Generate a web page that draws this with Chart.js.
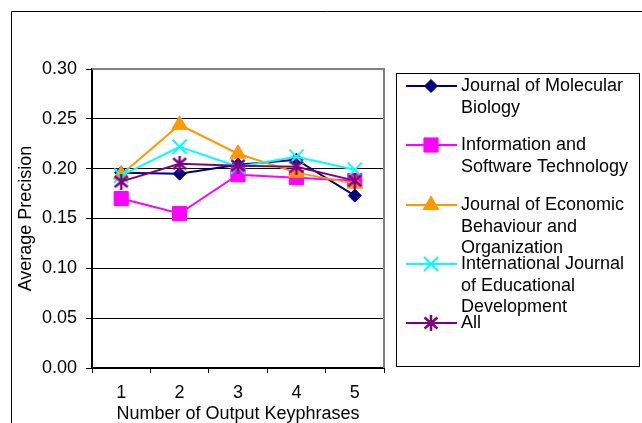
<!DOCTYPE html>
<html>
<head>
<meta charset="utf-8">
<script src="https://cdn.jsdelivr.net/npm/chart.js@4/dist/chart.umd.min.js"></script>
<style>
  body { margin: 0; background: #fff; }
  #wrap { width: 642px; height: 423px; position: relative; }
</style>
</head>
<body>
<div id="wrap"><canvas id="precisionChart"></canvas></div>
<script>
const keyphraseCounts = ['1', '2', '3', '4', '5'];
const yTicks = [0, 0.05, 0.10, 0.15, 0.20, 0.25, 0.30];

const molecularBiology = [0.196, 0.195, 0.204, 0.209, 0.173];
const infoSoftware = [0.170, 0.155, 0.194, 0.191, 0.188];
const economicBehaviour = [0.194, 0.244, 0.215, 0.196, 0.185];
const educationalDev = [0.193, 0.222, 0.202, 0.212, 0.199];
const allJournals = [0.187, 0.205, 0.203, 0.202, 0.188];

const seriesNames = [
  ['Journal of Molecular', 'Biology'],
  ['Information and', 'Software Technology'],
  ['Journal of Economic', 'Behaviour and', 'Organization'],
  ['International Journal', 'of Educational', 'Development'],
  ['All']
];

const FONT = 'Liberation Sans, Arial, sans-serif';

// spreadsheet style asterisk: vertical bar plus an X
function asteriskMarker(color) {
  const c = document.createElement('canvas');
  c.width = 16;
  c.height = 16;
  const g = c.getContext('2d');
  g.strokeStyle = color;
  g.lineWidth = 2.5;
  g.beginPath();
  g.moveTo(8, 0); g.lineTo(8, 16);
  g.moveTo(1.5, 2.5); g.lineTo(14.5, 13.5);
  g.moveTo(14.5, 2.5); g.lineTo(1.5, 13.5);
  g.stroke();
  return c;
}

function makeSeries(idx, data, color, style, radius, bw) {
  return {
    label: seriesNames[idx].join(' '),
    data: data,
    borderColor: color,
    backgroundColor: color,
    borderWidth: 2,
    pointStyle: style,
    pointRadius: radius,
    pointBorderWidth: bw,
    pointBorderColor: color,
    pointBackgroundColor: color,
    fill: false,
    tension: 0,
    order: 5 - idx
  };
}

const datasets = [
  makeSeries(0, molecularBiology, '#000080', 'rectRot', 6.5, 1),
  makeSeries(1, infoSoftware, '#ff00ff', 'rect', 10, 1),
  makeSeries(2, economicBehaviour, '#ff9900', 'triangle', 9, 1),
  makeSeries(3, educationalDev, '#00ffff', 'crossRot', 10, 2),
  makeSeries(4, allJournals, '#800080', asteriskMarker('#800080'), 8, 2)
];

// outer frame, plot border, and boxed legend like the spreadsheet original
const framePlugin = {
  id: 'frame',
  beforeDraw(chart) {
    const ctx = chart.ctx;
    ctx.save();
    ctx.fillStyle = '#fff';
    ctx.fillRect(0, 0, chart.width, chart.height);
    ctx.strokeStyle = '#000';
    ctx.lineWidth = 1;
    ctx.beginPath();
    ctx.moveTo(11.5, chart.height);
    ctx.lineTo(11.5, 11.5);
    ctx.lineTo(chart.width, 11.5);
    ctx.stroke();
    ctx.restore();
  },
  beforeDatasetsDraw(chart) {
    const a = chart.chartArea;
    const ctx = chart.ctx;
    ctx.save();
    ctx.strokeStyle = '#808080';
    ctx.lineWidth = 2;
    ctx.beginPath();
    ctx.moveTo(a.left, a.top);
    ctx.lineTo(a.right, a.top);
    ctx.lineTo(a.right, a.bottom);
    ctx.stroke();
    ctx.restore();
  },
  afterDraw(chart) {
    const ctx = chart.ctx;
    ctx.save();
    ctx.strokeStyle = '#000';
    ctx.lineWidth = 1;
    ctx.strokeRect(396.5, 73.5, 243, 293);
    ctx.font = '18px ' + FONT;
    ctx.textBaseline = 'middle';
    ctx.textAlign = 'left';
    const rowY = [86, 145, 205, 264, 323];
    chart.data.datasets.forEach((ds, i) => {
      const y = rowY[i];
      ctx.strokeStyle = ds.borderColor;
      ctx.lineWidth = 2;
      ctx.beginPath();
      ctx.moveTo(406, y);
      ctx.lineTo(457, y);
      ctx.stroke();
      ctx.fillStyle = ds.pointBackgroundColor;
      ctx.strokeStyle = ds.pointBorderColor;
      ctx.lineWidth = ds.pointBorderWidth;
      Chart.helpers.drawPoint(ctx, {
        pointStyle: ds.pointStyle,
        radius: ds.pointRadius,
        borderWidth: ds.pointBorderWidth,
        rotation: 0
      }, 431, y);
      ctx.fillStyle = '#000';
      seriesNames[i].forEach((line, k) => {
        ctx.fillText(line, 461, y + k * 21.6);
      });
    });
    ctx.restore();
  }
};

new Chart(document.getElementById('precisionChart').getContext('2d'), {
  type: 'line',
  data: {
    labels: keyphraseCounts,
    datasets: datasets
  },
  options: {
    responsive: true,
    maintainAspectRatio: false,
    animation: false,
    devicePixelRatio: 1,
    layout: { padding: { left: 15, top: 69, right: 258, bottom: 0 } },
    plugins: {
      legend: { display: false },
      tooltip: { enabled: false }
    },
    scales: {
      x: {
        offset: true,
        afterFit(scale) { scale.height = 55; },
        grid: { offset: true, drawOnChartArea: false, drawTicks: true, tickLength: 5, color: '#000' },
        border: { color: '#000', width: 2 },
        ticks: { color: '#000', padding: 9, font: { family: FONT, size: 18 } },
        title: {
          display: true,
          text: 'Number of Output Keyphrases',
          color: '#000',
          padding: 0,
          font: { family: FONT, size: 18, lineHeight: 1 }
        }
      },
      y: {
        min: 0,
        max: 0.3,
        afterFit(scale) { scale.width = 77; },
        afterBuildTicks(scale) { scale.ticks = yTicks.map(v => ({ value: v })); },
        grid: { color: '#000', lineWidth: 1, tickLength: 6 },
        border: { color: '#000', width: 2 },
        ticks: {
          color: '#000',
          padding: 9,
          font: { family: FONT, size: 18 },
          callback: v => v.toFixed(2)
        },
        title: {
          display: true,
          text: 'Average Precision',
          color: '#000',
          padding: 0,
          font: { family: FONT, size: 18 }
        }
      }
    }
  },
  plugins: [framePlugin]
});
</script>
</body>
</html>
